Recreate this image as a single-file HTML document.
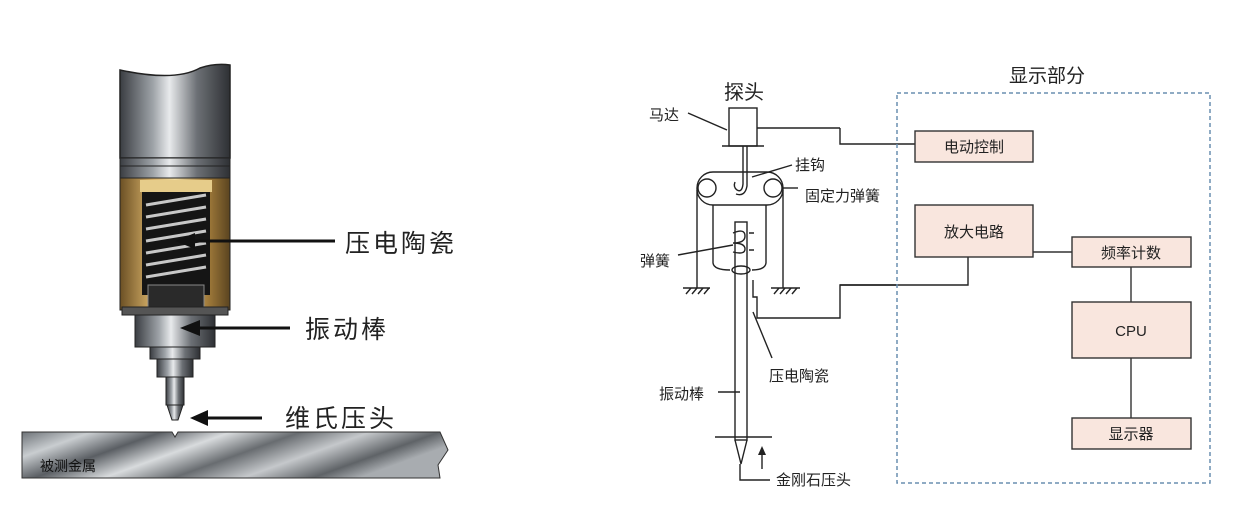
<!DOCTYPE html>
<html><head><meta charset="utf-8"><style>
html,body{margin:0;padding:0;background:#fff}
body{width:1249px;height:515px;overflow:hidden}
text{font-family:"Liberation Sans","Noto Sans CJK SC",sans-serif}
</style></head><body>
<svg width="1249" height="515" viewBox="0 0 1249 515" xmlns="http://www.w3.org/2000/svg">
<defs>
<linearGradient id="met" x1="0" x2="1" y1="0" y2="0">
<stop offset="0" stop-color="#3a3d42"/><stop offset="0.3" stop-color="#9ea3a8"/><stop offset="0.45" stop-color="#e8eaec"/><stop offset="0.7" stop-color="#6c7075"/><stop offset="1" stop-color="#2e3034"/></linearGradient>
<linearGradient id="gold" x1="0" x2="1"><stop offset="0" stop-color="#6b5024"/><stop offset="0.3" stop-color="#d9b26a"/><stop offset="0.5" stop-color="#f2dca0"/><stop offset="0.8" stop-color="#a07a3a"/><stop offset="1" stop-color="#5a4420"/></linearGradient>
<linearGradient id="plate" x1="0" y1="0" x2="1" y2="0.3"><stop offset="0" stop-color="#6e7378"/><stop offset="0.15" stop-color="#c9cdd0"/><stop offset="0.3" stop-color="#5a5e63"/><stop offset="0.45" stop-color="#d8dbdd"/><stop offset="0.6" stop-color="#686c70"/><stop offset="0.75" stop-color="#c5c8cb"/><stop offset="0.9" stop-color="#5f6367"/><stop offset="1" stop-color="#a8acb0"/></linearGradient>
</defs>
<path d="M120 70 Q175 82 200 68 Q215 63 230 65 L230 158 L120 158 Z" fill="url(#met)" stroke="#222" stroke-width="1.5"/>
<rect x="120" y="158" width="110" height="8" fill="url(#met)" stroke="#222"/>
<rect x="120" y="166" width="110" height="12" fill="url(#met)" stroke="#222"/>
<rect x="120" y="178" width="110" height="132" fill="url(#gold)" stroke="#222"/>
<rect x="140" y="180" width="72" height="12" fill="#e6cc8a"/>
<rect x="142" y="192" width="68" height="103" fill="#151515"/>
<g stroke="#c8c8c8" stroke-width="3">
<line x1="146" y1="205" x2="206" y2="195"/><line x1="146" y1="217" x2="206" y2="207"/><line x1="146" y1="229" x2="206" y2="219"/><line x1="146" y1="241" x2="206" y2="231"/><line x1="146" y1="253" x2="206" y2="243"/><line x1="146" y1="265" x2="206" y2="255"/><line x1="146" y1="277" x2="206" y2="267"/></g>
<rect x="148" y="285" width="56" height="22" fill="#2a2a2a" stroke="#888"/>
<rect x="122" y="307" width="106" height="8" fill="#555" stroke="#222"/>
<rect x="135" y="315" width="80" height="32" fill="url(#met)" stroke="#222"/>
<rect x="150" y="347" width="50" height="12" fill="url(#met)" stroke="#222"/>
<rect x="157" y="359" width="36" height="18" fill="url(#met)" stroke="#222"/>
<rect x="166" y="377" width="18" height="28" fill="url(#met)" stroke="#222"/>
<path d="M167 405 L183 405 L178 420 L172 420 Z" fill="url(#met)" stroke="#222"/>
<path d="M22 432 L172 432 L175 437 L178 432 L440 432 L448 450 L438 465 L440 478 L22 478 Z" fill="url(#plate)" stroke="#333"/>
<text x="40" y="471" font-size="14" fill="#111">被测金属</text>
<g stroke="#111" stroke-width="3"><line x1="335" y1="241" x2="190" y2="241"/><line x1="290" y1="328" x2="195" y2="328"/><line x1="262" y1="418" x2="205" y2="418"/></g>
<path d="M175 241 L195 233 L195 249Z M180 328 L200 320 L200 336Z M190 418 L208 410 L208 426Z" fill="#111"/>
<text x="345" y="252" font-size="25" fill="#222" letter-spacing="3">压电陶瓷</text>
<text x="305" y="338" font-size="25" fill="#222" letter-spacing="3">振动棒</text>
<text x="285" y="427" font-size="25" fill="#222" letter-spacing="3">维氏压头</text>
<g fill="none" stroke="#222" stroke-width="1.4">
<rect x="729" y="108" width="28" height="38"/>
<line x1="722" y1="146" x2="764" y2="146"/>
<line x1="757" y1="128" x2="840" y2="128"/><polyline points="840,128 840,144 915,144"/>
<line x1="688" y1="113" x2="727" y2="130"/>
<path d="M743 146 L743 184 Q742 193 737 190 Q733 187 735 182"/><path d="M747 146 L747 186 Q745 197 736 194"/>
<rect x="697" y="172" width="86" height="33" rx="16"/>
<circle cx="707" cy="188" r="9"/><circle cx="773" cy="188" r="9"/>
<line x1="752" y1="177" x2="792" y2="165"/><line x1="783" y1="188" x2="798" y2="188"/>
<line x1="697" y1="190" x2="697" y2="288"/><line x1="783" y1="190" x2="783" y2="288"/>
<path d="M713 205 L713 263 Q714 270 730 270 M766 205 L766 263 Q765 270 752 270"/>
<rect x="735" y="222" width="12" height="218"/>
<path d="M733 233 Q745 228 745 236 Q745 243 733 243 Q745 243 745 249 Q745 255 733 252 M749 233 L754 233 M749 250 L754 250"/>
<ellipse cx="741" cy="270" rx="9" ry="4"/>
<line x1="678" y1="255" x2="733" y2="245"/>
<line x1="683" y1="288" x2="710" y2="288"/><line x1="771" y1="288" x2="800" y2="288"/>
<path d="M686 294 l5-6 M692 294 l5-6 M698 294 l5-6 M704 294 l5-6 M774 294 l5-6 M780 294 l5-6 M786 294 l5-6 M792 294 l5-6"/>
<polyline points="753,280 753,297 757,297 757,318 840,318 840,285 968,285 968,257"/>
<line x1="840" y1="285" x2="897" y2="285"/>
<line x1="753" y1="312" x2="772" y2="358"/>
<line x1="718" y1="392" x2="740" y2="392"/>
<line x1="715" y1="437" x2="772" y2="437"/>
<path d="M735 440 L741 464 L747 440"/>
<polyline points="740,464 740,480 770,480"/>
<line x1="762" y1="469" x2="762" y2="452"/>
</g>
<path d="M762 446 L758 455 L766 455Z" fill="#222"/>
<g font-size="15" fill="#222">
<text x="724" y="99" font-size="20">探头</text>
<text x="649" y="120">马达</text>
<text x="795" y="170">挂钩</text>
<text x="805" y="201">固定力弹簧</text>
<text x="640" y="266">弹簧</text>
<text x="769" y="381">压电陶瓷</text>
<text x="659" y="399">振动棒</text>
<text x="776" y="485">金刚石压头</text>
</g>
<rect x="897" y="93" width="313" height="390" fill="none" stroke="#6a8fb0" stroke-width="1.5" stroke-dasharray="4,3"/>
<text x="1047" y="82" font-size="19" text-anchor="middle" fill="#222">显示部分</text>
<g fill="#f9e6de" stroke="#333" stroke-width="1.4">
<rect x="915" y="131" width="118" height="31"/>
<rect x="915" y="205" width="118" height="52"/>
<rect x="1072" y="237" width="119" height="30"/>
<rect x="1072" y="302" width="119" height="56"/>
<rect x="1072" y="418" width="119" height="31"/>
</g>
<g stroke="#333" stroke-width="1.4"><line x1="1033" y1="252" x2="1072" y2="252"/><line x1="1131" y1="267" x2="1131" y2="302"/><line x1="1131" y1="358" x2="1131" y2="418"/></g>
<g font-size="15" fill="#222" text-anchor="middle">
<text x="974" y="152">电动控制</text>
<text x="974" y="237">放大电路</text>
<text x="1131" y="258">频率计数</text>
<text x="1131" y="336">CPU</text>
<text x="1131" y="439">显示器</text>
</g>
</svg>
</body></html>
